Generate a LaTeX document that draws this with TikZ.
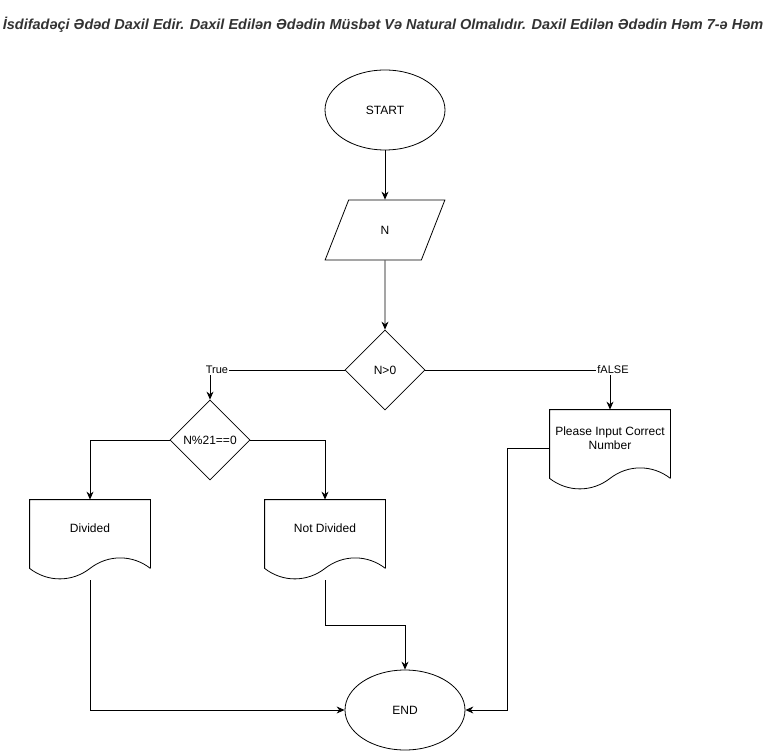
\documentclass[tikz,border=0pt]{standalone}
\usepackage{fontspec}
\setmainfont{Liberation Sans}
\usetikzlibrary{shapes.geometric,arrows.meta}

\begin{document}
\begin{tikzpicture}[x=1pt,y=-1pt,line width=.8pt,>={Stealth[length=8pt,width=7pt]},
    every node/.style={font=\fontsize{12}{14}\selectfont},
    term/.style={draw,ellipse,minimum width=120pt,minimum height=80pt},
    io/.style={draw,trapezium,trapezium left angle=71.6,trapezium right angle=108.4,trapezium stretches=true,minimum width=120pt,minimum height=60pt},
    cond/.style={draw,diamond,minimum width=80pt,minimum height=80pt,inner sep=0pt},
    docbox/.style={minimum width=120pt,minimum height=56pt,align=center},
    lbl/.style={fill=white,inner sep=1pt,font=\fontsize{11}{13}\selectfont}]
    \useasboundingbox (0,0) rectangle (771,751);
    \node[font=\fontsize{14.5}{17}\selectfont\bfseries\itshape,text=black!80] (title) at (383,25)
        {İsdifadəçi Ədəd Daxil Edir. Daxil Edilən Ədədin Müsbət Və Natural Olmalıdır. Daxil Edilən Ədədin Həm 7-ə Həm};
    \node[term] (start) at (385,110) {START};
    \node[io] (inp) at (385,230) {N};
    \node[cond] (pos) at (385,370) {N>0};
    \node[cond] (mod) at (210,440) {N\%21==0};
    \node[docbox] (div) at (90,528) {Divided};
    \node[docbox] (ndiv) at (325,528) {Not Divided};
    \node[docbox] (err) at (610,438) {Please Input Correct\\Number};
    \node[term] (stop) at (405,710) {END};
    % document outlines with the wavy bottom
    \foreach \d in {div,ndiv,err}
        \draw ([yshift=-12pt]\d.south east) -- (\d.north east) -- (\d.north west) -- ([yshift=-12pt]\d.south west)
            .. controls +(18pt,-14pt) and +(-18pt,-14pt) .. ([yshift=-12pt]\d.south)
            .. controls +(18pt,14pt) and +(-18pt,14pt) .. ([yshift=-12pt]\d.south east);
    \draw[->] (start) -- (inp);
    \draw[->] (inp) -- (pos);
    \draw[->] (pos.west) -| node[lbl,pos=.5,xshift=7pt] {True} (mod.north);
    \draw[->] (pos.east) -| node[lbl,pos=.5,xshift=3pt] {fALSE} (err.north);
    \draw[->] (mod.west) -| (div.north);
    \draw[->] (mod.east) -| (ndiv.north);
    \draw[->] ([yshift=-24pt]div.south) |- (stop.west);
    \draw[->] ([yshift=-24pt]ndiv.south) -- ++(0,45) -| (stop.north);
    \draw[->] ([yshift=-10pt]err.west) -- ++(-42,0) |- (stop.east);
\end{tikzpicture}
\end{document}
